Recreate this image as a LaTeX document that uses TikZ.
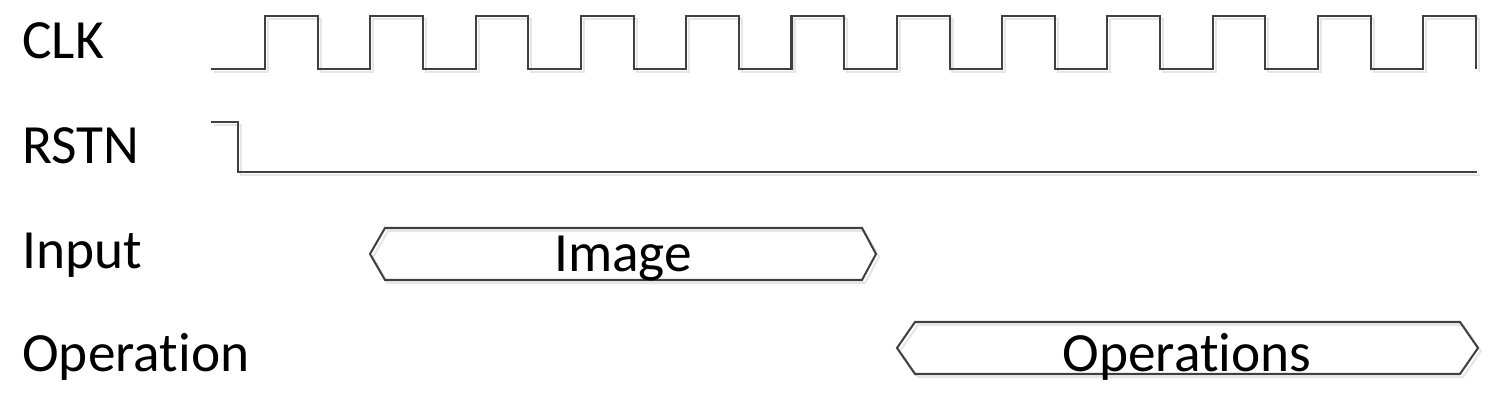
\documentclass[tikz,border=0pt]{standalone}
\usepackage{fontspec}
\setmainfont{Carlito}[Ligatures=NoCommon]
\usepackage{xcolor}
\usetikzlibrary{positioning}

\definecolor{wavegray}{RGB}{64,64,64}
\definecolor{shadegray}{RGB}{230,230,230}

\tikzset{
    wave/.style={draw=wavegray, line width=1.15pt,
        preaction={draw=shadegray, line width=1.15pt,
            transform canvas={shift={(0.06cm,-0.06cm)}}}},
    sig/.style={anchor=base west, inner sep=0pt, font=\fontsize{31.5}{37}\selectfont},
    bustext/.style={anchor=base, inner sep=0pt, font=\fontsize{31.5}{37}\selectfont}
}

\begin{document}
\begin{tikzpicture}[x=0.02cm, y=0.02cm]
    \useasboundingbox (0,0) rectangle (1498,402);

    % Signal names
    \node [sig] (clk) at (22,343) {CLK};
    \node [sig] (rstn) at (22,238) {RSTN};
    \node [sig] (input) at (22,133) {Input};
    \node [sig] (oper) at (22,30) {Operation};

    % Clock
    \draw [wave] (211,333) foreach \k in {0,...,11} {
        -- ({265+105.3*\k},333) -- ++(0,53) -- ++(52.7,0) -- ++(0,-53) };

    % Reset
    \draw [wave] (211,280) -- (238,280) -- (238,230) -- (1477,230);

    % Buses
    \draw [wave] (370,148) -- (385,174) -- (862,174) -- (876,148)
        -- (862,122) -- (385,122) -- cycle;
    \node [bustext] (image) at (623,130) {Image};

    \draw [wave] (897,54) -- (915,80) -- (1460,80) -- (1478,54)
        -- (1460,28) -- (915,28) -- cycle;
    \node [bustext] (ops) at (1187,30) {Operations};
\end{tikzpicture}
\end{document}
